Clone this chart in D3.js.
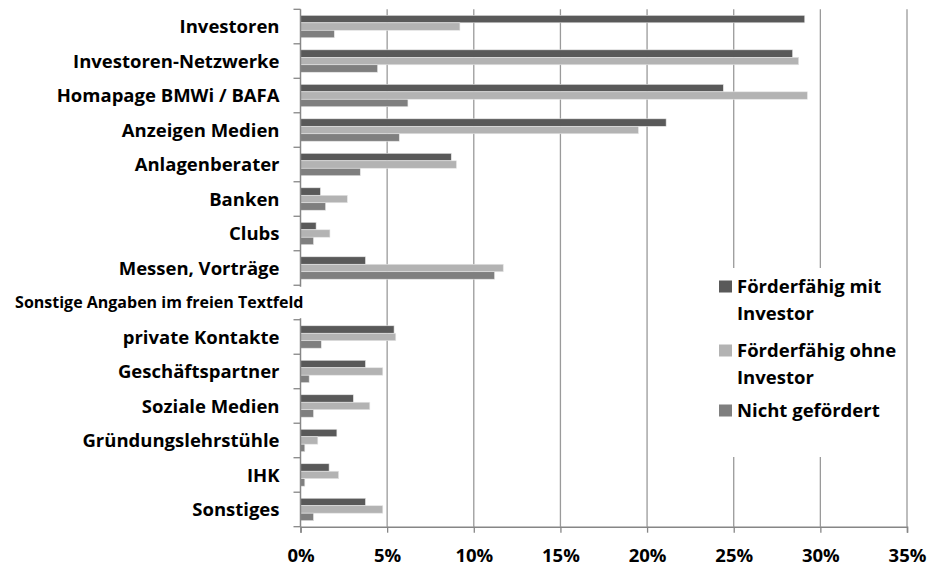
<!DOCTYPE html>
<html>
<head>
<meta charset="utf-8">
<script src="https://cdn.jsdelivr.net/npm/d3@7"></script>
<style>
  body { margin: 0; background: #fff; }
  text { font-family: "Open Sans", Lato, sans-serif; font-weight: bold; fill: #000; }
</style>
</head>
<body>
<div id="chart"></div>
<script>
// categories, top to bottom (the header row gets no bars)
var categories = [
    "Investoren", "Investoren-Netzwerke", "Homapage BMWi / BAFA", "Anzeigen Medien",
    "Anlagenberater", "Banken", "Clubs", "Messen, Vorträge",
    "Sonstige Angaben im freien Textfeld",
    "private Kontakte", "Geschäftspartner", "Soziale Medien", "Gründungslehrstühle",
    "IHK", "Sonstiges"
];
var headerRow = "Sonstige Angaben im freien Textfeld";

var seriesNames = ["Förderfähig mit Investor", "Förderfähig ohne Investor", "Nicht gefördert"];
var seriesColors = ["#595959", "#b3b3b3", "#7f7f7f"];

// values in %
var mitInvestor  = [29.1, 28.4, 24.4, 21.1, 8.7, 1.15, 0.9, 3.75, null, 5.4, 3.75, 3.05, 2.1, 1.65, 3.75];
var ohneInvestor = [9.2, 28.75, 29.25, 19.5, 9.0, 2.7, 1.7, 11.7, null, 5.5, 4.75, 4.0, 1.0, 2.2, 4.75];
var nichtGefoerdert = [1.95, 4.45, 6.2, 5.7, 3.45, 1.45, 0.75, 11.2, null, 1.2, 0.5, 0.75, 0.25, 0.25, 0.75];

var xTicks = [0, 5, 10, 15, 20, 25, 30, 35];

var width = 928, height = 567;
var margin = { top: 9.3, right: 21, bottom: 40, left: 300.5 };
var plotW = width - margin.left - margin.right,
    plotH = 526.7 - margin.top;

var svg = d3.select("#chart").append("svg")
    .attr("width", width)
    .attr("height", height);

var g = svg.append("g")
    .attr("transform", "translate(" + margin.left + "," + margin.top + ")");

var x = d3.scaleLinear().domain([0, 35]).range([0, plotW]);
var y = d3.scaleBand().domain(categories).range([0, plotH]).paddingInner(0.35).paddingOuter(0.175);
var ySub = d3.scaleBand().domain([0, 1, 2]).range([0, y.bandwidth()]);

// gridlines
g.selectAll(".grid").data(xTicks.slice(1)).enter().append("line")
    .attr("x1", function(d){ return x(d); })
    .attr("x2", function(d){ return x(d); })
    .attr("y1", 0).attr("y2", plotH)
    .attr("stroke", "#9a9a9a").attr("stroke-width", 1.3);

// bars
var rows = categories.map(function(c, i){
    return { cat: c, vals: [mitInvestor[i], ohneInvestor[i], nichtGefoerdert[i]] };
}).filter(function(r){ return r.cat !== headerRow; });

var grp = g.selectAll(".grp").data(rows).enter().append("g")
    .attr("transform", function(d){ return "translate(0," + y(d.cat) + ")"; });

grp.selectAll("rect").data(function(d){ return d.vals; }).enter().append("rect")
    .attr("x", 0)
    .attr("y", function(d, i){ return ySub(i); })
    .attr("width", function(d){ return x(d); })
    .attr("height", ySub.bandwidth())
    .attr("fill", function(d, i){ return seriesColors[i]; })
    .attr("stroke", "#e6e6e6").attr("stroke-width", 0.6);

// x axis
var xAxis = d3.axisBottom(x).tickValues(xTicks)
    .tickFormat(function(d){ return d + "%"; })
    .tickSize(6).tickPadding(16);
var xg = g.append("g").attr("transform", "translate(0," + plotH + ")").call(xAxis);
xg.select(".domain").attr("stroke", "#868686").attr("stroke-width", 1.5);
xg.selectAll(".tick line").attr("stroke", "#868686").attr("stroke-width", 1.3);
xg.selectAll("text").style("font-size", "18.5px").attr("fill", "#000");

// y axis: ticks at band boundaries
var step = y.step();
var boundaries = d3.range(categories.length + 1).map(function(i){ return i * step; });
g.append("line").attr("x1", 0).attr("x2", 0).attr("y1", 0).attr("y2", plotH)
    .attr("stroke", "#868686").attr("stroke-width", 1.5);
g.selectAll(".ytick").data(boundaries).enter().append("line")
    .attr("x1", -7).attr("x2", 0)
    .attr("y1", function(d){ return d; }).attr("y2", function(d){ return d; })
    .attr("stroke", "#868686").attr("stroke-width", 1.3);

// category labels
g.selectAll(".ylab").data(categories.filter(function(c){ return c !== headerRow; })).enter().append("text")
    .attr("x", -21)
    .attr("y", function(d){ return y(d) + y.bandwidth() / 2; })
    .attr("dy", "0.36em")
    .attr("text-anchor", "end")
    .style("font-size", "18.5px")
    .text(function(d){ return d; });

// header row label, covers the axis line
var hy = y(headerRow) - y.step() * y.paddingInner() / 2;
g.append("rect").attr("x", -295).attr("y", hy + 1.5)
    .attr("width", 299).attr("height", y.step() - 3).attr("fill", "#fff");
g.append("text")
    .attr("x", 3)
    .attr("y", y(headerRow) + y.bandwidth() / 2)
    .attr("dy", "0.36em")
    .attr("text-anchor", "end")
    .style("font-size", "16px")
    .text(headerRow);

// legend
var legend = svg.append("g").attr("transform", "translate(712,268)");
legend.append("rect").attr("width", 193).attr("height", 189).attr("fill", "#fff");
var legendLines = [["Förderfähig mit", "Investor"], ["Förderfähig ohne", "Investor"], ["Nicht gefördert"]];
var legendY = [25, 89, 149];
var li = legend.selectAll(".li").data(legendLines).enter().append("g")
    .attr("transform", function(d, i){ return "translate(0," + legendY[i] + ")"; });
li.append("rect").attr("x", 7).attr("y", -12.5).attr("width", 13).attr("height", 12)
    .attr("fill", function(d, i){ return seriesColors[i]; });
li.append("text").attr("x", 25)
    .style("font-size", "18.5px")
    .selectAll("tspan").data(function(d){ return d; }).enter().append("tspan")
    .attr("x", 25)
    .attr("dy", function(d, i){ return i === 0 ? 0 : 27; })
    .text(function(d){ return d; });
</script>
</body>
</html>
